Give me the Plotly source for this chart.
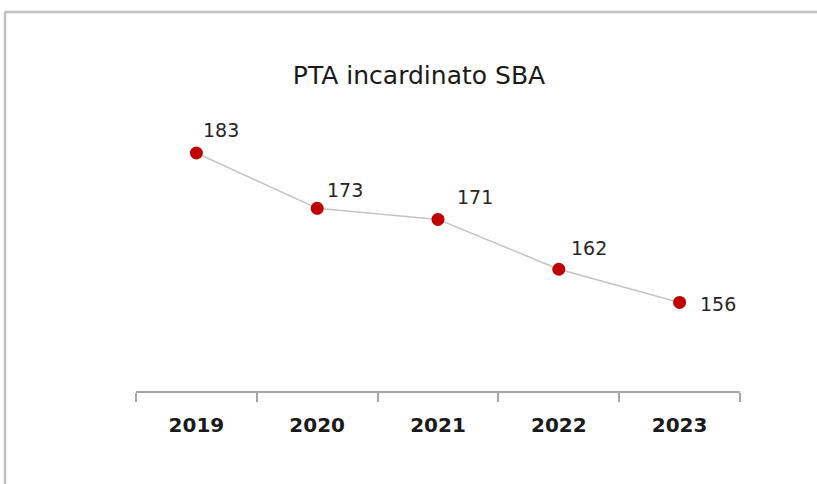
import plotly.graph_objects as go

years = ["2019", "2020", "2021", "2022", "2023"]
values = [183, 173, 171, 162, 156]

# label offsets in pixels (style only)
label_dx = [25, 28, 37, 30, 38]
label_dy = [23, 18, 22, 21, -2]

W, H = 817, 484
L, R, T, B = 136, 77, 100, 93
pw, ph = W - L - R, H - T - B

fig = go.Figure()
fig.add_trace(go.Scatter(
    x=years, y=values, mode="lines+markers",
    line=dict(color="#c4c4c4", width=1.5),
    marker=dict(color="#c00000", size=13),
    hoverinfo="skip", showlegend=False,
))

for i, (v, dx, dy) in enumerate(zip(values, label_dx, label_dy)):
    fig.add_annotation(x=i, y=v, xref="x", yref="y", text=str(v),
                       showarrow=False, xshift=dx, yshift=dy,
                       font=dict(family="DejaVu Sans", size=19, color="#262626"))

def px2paper_x(px):
    return (px - L) / pw

def px2paper_y(py):
    return (H - B - py) / ph

border = "#c0c0c0"
fig.add_shape(type="line", xref="paper", yref="paper",
              x0=px2paper_x(5), x1=px2paper_x(830),
              y0=px2paper_y(12), y1=px2paper_y(12),
              line=dict(color=border, width=2.5))
fig.add_shape(type="line", xref="paper", yref="paper",
              x0=px2paper_x(5), x1=px2paper_x(5),
              y0=px2paper_y(12), y1=px2paper_y(500),
              line=dict(color=border, width=2.5))

fig.update_layout(
    width=W, height=H,
    margin=dict(l=L, r=R, t=T, b=B),
    paper_bgcolor="white", plot_bgcolor="white",
    title=dict(text="PTA incardinato SBA", x=419 / W, xanchor="center",
               y=1 - 75 / H, yanchor="middle",
               font=dict(family="DejaVu Sans", size=25, color="#1a1a1a")),
    xaxis=dict(type="category", showgrid=False, zeroline=False,
               showline=True, linecolor="#a6a6a6", linewidth=1.5,
               ticks="outside", tickson="boundaries", ticklen=9,
               tickcolor="#a6a6a6", tickwidth=1.5, ticklabelstandoff=15,
               tickfont=dict(family="DejaVu Sans", size=20, color="#1a1a1a",
                             weight="bold"),
               range=[-0.5, 4.5]),
    yaxis=dict(showgrid=False, zeroline=False, showline=False,
               showticklabels=False, ticks="",
               range=[140, 140 + ph / 5.535]),
)

fig.write_html("out.html", config={"displayModeBar": False},
               post_script="document.body.style.margin='0';document.body.style.padding='0';")
